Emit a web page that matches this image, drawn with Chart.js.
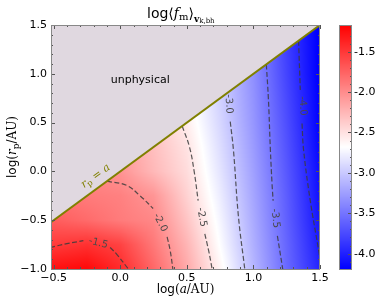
<!DOCTYPE html>
<html>
<head>
<meta charset="utf-8">
<script src="https://cdn.jsdelivr.net/npm/chart.js@4.4.1/dist/chart.umd.min.js"></script>
<style>
  html, body { margin: 0; padding: 0; background: #fff; }
</style>
</head>
<body>
<canvas id="fmChart" width="390" height="300"></canvas>
<script>
// axis ranges: log(a/AU) horizontally, log(rp/AU) vertically, colour range of the bar
const xRange = [-0.52, 1.5];
const yRange = [-1.0, 1.5];
const cRange = [-4.19, -1.17];

// log<f_m>; rows follow gridY, columns follow gridX
const gridX = [-0.5, -0.25, 0, 0.25, 0.5, 0.75, 1.0, 1.25, 1.5];
const gridY = [-1.0, -0.75, -0.5, -0.25, 0, 0.25, 0.5, 0.75, 1.0, 1.25, 1.5];
const gridZ = [
  [-1.26, -1.22, -1.42, -1.78, -2.17, -2.62, -3.11, -3.57, -3.98],
  [-1.52, -1.46, -1.56, -1.88, -2.24, -2.69, -3.15, -3.59, -4.03],
  [-1.72, -1.80, -1.90, -1.97, -2.33, -2.74, -3.18, -3.62, -4.07],
  [-1.85, -1.90, -1.93, -2.05, -2.41, -2.79, -3.21, -3.64, -4.10],
  [-1.90, -1.97, -2.04, -2.26, -2.47, -2.84, -3.24, -3.67, -4.12],
  [-1.95, -2.00, -2.10, -2.30, -2.51, -2.88, -3.27, -3.70, -4.16],
  [-2.00, -2.05, -2.15, -2.35, -2.57, -2.92, -3.30, -3.73, -4.19],
  [-2.00, -2.08, -2.20, -2.40, -2.62, -2.95, -3.32, -3.76, -4.20],
  [-2.00, -2.08, -2.20, -2.40, -2.62, -2.97, -3.34, -3.79, -4.22],
  [-2.00, -2.08, -2.20, -2.40, -2.62, -2.98, -3.36, -3.81, -4.22],
  [-2.00, -2.08, -2.20, -2.40, -2.62, -2.98, -3.36, -3.83, -4.23]
];

// contour paths [log a, log rp], split where the inline label sits
const c15 = [[[-0.527, -0.78], [-0.40, -0.74], [-0.277, -0.71]],
             [[-0.076, -0.78], [-0.026, -0.85], [0.061, -1.0]]];
const c20 = [[[-0.10, -0.10], [0.049, -0.144], [0.149, -0.25], [0.247, -0.38]],
             [[0.352, -0.67], [0.375, -0.81], [0.395, -1.0]]];
const c25 = [[[0.465, 0.465], [0.52, 0.25], [0.555, 0.0], [0.585, -0.30]],
             [[0.635, -0.64], [0.665, -0.82], [0.69, -1.0]]];
const c30 = [[[0.826, 0.51], [0.85, 0.22], [0.888, -0.47], [0.935, -1.0]]];
const c35 = [[[1.097, 1.097], [1.113, 0.73], [1.127, 0.234], [1.14, -0.13], [1.148, -0.30]],
             [[1.18, -0.66], [1.22, -1.0]]];
const c40 = [[[1.339, 1.339], [1.352, 0.835]],
             [[1.365, 0.49], [1.377, 0.217], [1.427, -0.30], [1.49, -0.81], [1.50, -0.90]]];

// inline contour labels
const levelText = ['-1.5', '-2.0', '-2.5', '-3.0', '-3.5', '-4.0'];
const levelPos = [[-0.165, -0.735], [0.30, -0.525], [0.612, -0.47], [0.815, 0.69], [1.164, -0.48], [1.37, 0.67]];
const levelAngle = [14, 63, 80, 87, 83, 86];

// r_p = a boundary
const edge = [xRange[0], xRange[1]];

const serif = 'DejaVu Serif';
const sans = 'DejaVu Sans';

function locate(arr, v) {
  const n = arr.length;
  if (v <= arr[0]) return [0, 0];
  if (v >= arr[n - 1]) return [n - 2, 1];
  let i = 0;
  while (v > arr[i + 1]) i++;
  return [i, (v - arr[i]) / (arr[i + 1] - arr[i])];
}

function fieldAt(xv, yv) {
  const [i, tx] = locate(gridX, xv);
  const [j, ty] = locate(gridY, yv);
  const a = gridZ[j][i] * (1 - tx) + gridZ[j][i + 1] * tx;
  const b = gridZ[j + 1][i] * (1 - tx) + gridZ[j + 1][i + 1] * tx;
  return a * (1 - ty) + b * ty;
}

// matplotlib bwr
function bwr(v) {
  let t = (v - cRange[0]) / (cRange[1] - cRange[0]);
  t = Math.max(0, Math.min(1, t));
  if (t < 0.5) return [510 * t, 510 * t, 255];
  return [255, 510 * (1 - t), 510 * (1 - t)];
}

function richText(ctx, parts, x, y, align) {
  let w = 0;
  parts.forEach(p => { ctx.font = p[1]; w += ctx.measureText(p[0]).width; });
  let cx = align === 'center' ? x - w / 2 : x;
  ctx.textAlign = 'left';
  ctx.textBaseline = 'alphabetic';
  parts.forEach(p => {
    ctx.font = p[1];
    ctx.fillText(p[0], cx, y + (p[2] || 0));
    cx += ctx.measureText(p[0]).width;
  });
}

const heatmap = {
  id: 'heatmap',
  beforeDatasetsDraw(chart) {
    const { ctx, chartArea: a, scales: { x, y } } = chart;
    const w = Math.round(a.right - a.left), h = Math.round(a.bottom - a.top);
    const off = document.createElement('canvas');
    off.width = w; off.height = h;
    const octx = off.getContext('2d');
    const img = octx.createImageData(w, h);
    for (let py = 0; py < h; py++) {
      const yv = y.getValueForPixel(a.top + py + 0.5);
      for (let px = 0; px < w; px++) {
        const xv = x.getValueForPixel(a.left + px + 0.5);
        const c = bwr(fieldAt(xv, yv));
        const k = (py * w + px) * 4;
        img.data[k] = c[0]; img.data[k + 1] = c[1]; img.data[k + 2] = c[2]; img.data[k + 3] = 255;
      }
    }
    octx.putImageData(img, 0, 0);
    ctx.drawImage(off, a.left, a.top);
  },
  afterDatasetsDraw(chart) {
    const { ctx, chartArea: a, scales: { x, y, cb } } = chart;

    // contour labels
    ctx.save();
    ctx.fillStyle = '#4a4a4a';
    ctx.font = '10px ' + sans;
    ctx.textAlign = 'center';
    ctx.textBaseline = 'middle';
    levelText.forEach((t, i) => {
      ctx.save();
      ctx.translate(x.getPixelForValue(levelPos[i][0]), y.getPixelForValue(levelPos[i][1]));
      ctx.rotate(levelAngle[i] * Math.PI / 180);
      ctx.fillText(t, 0, 0);
      ctx.restore();
    });
    ctx.restore();

    // annotations
    ctx.save();
    ctx.fillStyle = '#000';
    ctx.font = '11px ' + sans;
    ctx.textAlign = 'center';
    ctx.textBaseline = 'middle';
    ctx.fillText('unphysical', x.getPixelForValue(0.15), y.getPixelForValue(0.93));
    ctx.fillStyle = '#808000';
    ctx.translate(x.getPixelForValue(-0.19), y.getPixelForValue(-0.04));
    ctx.rotate(-Math.atan2(y.getPixelForValue(0) - y.getPixelForValue(1), x.getPixelForValue(1) - x.getPixelForValue(0)));
    richText(ctx, [['r', 'italic 11px ' + serif], ['p', '8px ' + serif, 2], [' = ', '11px ' + serif], ['a', 'italic 11px ' + serif]], 0, 4, 'center');
    ctx.restore();

    // inward ticks and frame
    ctx.save();
    ctx.strokeStyle = '#555';
    ctx.lineWidth = 1;
    ctx.beginPath();
    for (let k = -10; k <= 15; k++) {
      const v = k / 10;
      if (v < xRange[0]) continue;
      const len = k % 5 === 0 ? 4 : 2;
      const px = Math.round(x.getPixelForValue(v)) + 0.5;
      ctx.moveTo(px, a.bottom); ctx.lineTo(px, a.bottom - len);
      ctx.moveTo(px, a.top); ctx.lineTo(px, a.top + len);
    }
    for (let k = -10; k <= 15; k++) {
      const len = k % 5 === 0 ? 4 : 2;
      const py = Math.round(y.getPixelForValue(k / 10)) + 0.5;
      ctx.moveTo(a.left, py); ctx.lineTo(a.left + len, py);
      ctx.moveTo(a.right, py); ctx.lineTo(a.right - len, py);
    }
    ctx.stroke();
    ctx.strokeStyle = '#888';
    ctx.strokeRect(Math.round(a.left) + 0.5, Math.round(a.top) + 0.5, Math.round(a.right - a.left) - 1, Math.round(a.bottom - a.top));
    ctx.restore();

    // colour bar
    ctx.save();
    const bx = 339, bw = 13;
    for (let py = Math.floor(cb.top); py < cb.bottom; py++) {
      const c = bwr(cb.getValueForPixel(py + 0.5));
      ctx.fillStyle = `rgb(${c[0]},${c[1]},${c[2]})`;
      ctx.fillRect(bx, py, bw, 1);
    }
    ctx.strokeStyle = '#555';
    ctx.beginPath();
    for (let k = -41; k <= -12; k++) {
      const len = k % 5 === 0 ? 4 : 2;
      const py = Math.round(cb.getPixelForValue(k / 10)) + 0.5;
      ctx.moveTo(bx + bw, py); ctx.lineTo(bx + bw - len, py);
    }
    ctx.stroke();
    ctx.strokeStyle = '#888';
    ctx.strokeRect(bx + 0.5, Math.round(cb.top) + 0.5, bw - 1, Math.round(cb.bottom - cb.top));
    ctx.restore();

    // titles
    ctx.save();
    ctx.fillStyle = '#000';
    richText(ctx, [['log', '14px ' + sans], ['\u27E8', '14px ' + sans], ['f', 'italic 14px ' + serif],
      ['m', '10px ' + serif, 2], ['\u27E9', '14px ' + sans], ['v', 'bold 9px ' + serif, 4], ['k,bh', '7px ' + serif, 5]],
      147, 18, 'left');
    richText(ctx, [['log', '12px ' + sans], ['(', '12px ' + serif], ['a', 'italic 12px ' + serif], ['/AU)', '12px ' + serif]],
      (a.left + a.right) / 2, 293, 'center');
    ctx.translate(16, (a.top + a.bottom) / 2);
    ctx.rotate(-Math.PI / 2);
    richText(ctx, [['log', '12px ' + sans], ['(', '12px ' + serif], ['r', 'italic 12px ' + serif],
      ['p', '9px ' + serif, 3], ['/AU)', '12px ' + serif]], 0, 0, 'center');
    ctx.restore();
  }
};

const toXY = pts => pts.map(p => ({ x: p[0], y: p[1] }));
const contourSets = [];
[c15, c20, c25, c30, c35, c40].forEach(level => {
  level.forEach(seg => {
    contourSets.push({
      data: toXY(seg),
      borderColor: 'rgba(60,60,60,0.85)',
      borderWidth: 1.2,
      borderDash: [5, 2.5],
      tension: 0.4,
      pointRadius: 0,
      fill: false,
      order: 1
    });
  });
});

const tickFmt = v => (v < 0 ? '\u2212' : '') + Math.abs(v).toFixed(1);
// keep the plot box where the reference has it, whatever the label overhang
const noPad = s => { s.paddingTop = 0; s.paddingBottom = 0; s.paddingLeft = 0; s.paddingRight = 0; };

new Chart(document.getElementById('fmChart'), {
  type: 'line',
  data: {
    datasets: [{
      data: edge.map(v => ({ x: v, y: v })),
      borderColor: '#808000',
      borderWidth: 2,
      backgroundColor: '#e0d8e0',
      fill: 'end',
      pointRadius: 0,
      order: 0
    }].concat(contourSets)
  },
  options: {
    responsive: false,
    animation: false,
    events: [],
    layout: { padding: { top: 25, left: 0, right: 0, bottom: 0 } },
    plugins: { legend: { display: false }, tooltip: { enabled: false } },
    scales: {
      x: {
        type: 'linear', min: xRange[0], max: xRange[1],
        grid: { display: false, drawTicks: false }, border: { display: false },
        ticks: { stepSize: 0.5, includeBounds: false, autoSkip: false, maxRotation: 0, padding: 3,
                 color: '#000', font: { family: sans, size: 11 }, callback: tickFmt },
        afterFit: s => { s.height = 31; noPad(s); }
      },
      y: {
        type: 'linear', min: yRange[0], max: yRange[1],
        grid: { display: false, drawTicks: false }, border: { display: false },
        ticks: { stepSize: 0.5, includeBounds: false, autoSkip: false, padding: 4,
                 color: '#000', font: { family: sans, size: 11 }, callback: tickFmt },
        afterFit: s => { s.width = 51; noPad(s); }
      },
      cb: {
        type: 'linear', position: 'right', min: cRange[0], max: cRange[1],
        grid: { display: false, drawTicks: false }, border: { display: false },
        ticks: { stepSize: 0.5, includeBounds: false, autoSkip: false, padding: 34,
                 color: '#000', font: { family: sans, size: 11 }, callback: v => v.toFixed(1) },
        afterFit: s => { s.width = 70; noPad(s); }
      }
    }
  },
  plugins: [heatmap]
});
</script>
</body>
</html>
